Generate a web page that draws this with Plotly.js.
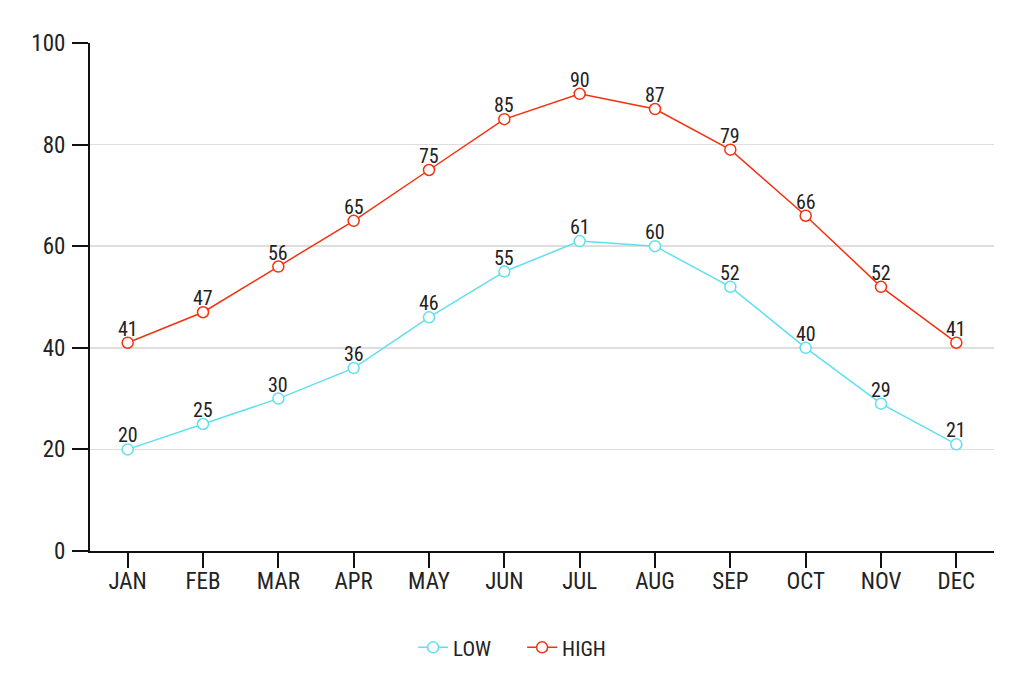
<!DOCTYPE html>
<html><head><meta charset="utf-8">
<script src="https://cdn.plot.ly/plotly-3.0.1.min.js"></script>
<style>body{margin:0;background:#fff}#c{width:1024px;height:684px}</style>
</head><body><div id="c"></div>
<script>
const months = ["JAN","FEB","MAR","APR","MAY","JUN","JUL","AUG","SEP","OCT","NOV","DEC"];
const low = [20,25,30,36,46,55,61,60,52,40,29,21];
const high = [41,47,56,65,75,85,90,87,79,66,52,41];
const FONT = "'Roboto Condensed', 'Liberation Sans Narrow', Roboto, sans-serif";
function tr(name, y, color){
  return {x: months, y: y, name: name, type:'scatter', mode:'lines+markers',
    line:{color:color, width:1.5},
    marker:{symbol:'circle', size:11, color:'#fff', line:{color:color, width:1.5}},
    cliponaxis:false};
}
const data = [tr('LOW', low, '#5ee0f0'), tr('HIGH', high, '#f5310f')];
const annotations = [];
[low, high].forEach(series => series.forEach((v, i) => annotations.push({
  x: months[i], y: v, xref:'x', yref:'y', text: String(v), showarrow:false,
  yanchor:'bottom', yshift:0, font:{size:20, color:'#222', family:FONT}
})));
const layout = {
  width:1024, height:684, paper_bgcolor:'#fff', plot_bgcolor:'#fff',
  margin:{l:90, r:30, t:43, b:133, autoexpand:false},
  font:{family:FONT, size:23, color:'#222'},
  showlegend:true, annotations: annotations,
  legend:{orientation:'h', x:0.478, xanchor:'center', y:-0.15, yanchor:'top', entrywidth:64,
    font:{size:21, family:FONT}},
  xaxis:{type:'category', showgrid:false, showline:true, linecolor:'#111', linewidth:2,
    ticks:'outside', ticklen:15, tickwidth:2, tickcolor:'#111', range:[-0.5,11.5],
    ticklabelstandoff:-7, fixedrange:true},
  yaxis:{range:[0,100], dtick:20, showgrid:true, gridcolor:'#dedede', gridwidth:1.5,
    showline:true, linecolor:'#111', linewidth:2, ticks:'outside', ticklen:16, tickwidth:2,
    tickcolor:'#111', zeroline:false, ticklabelstandoff:2, fixedrange:true}
};
Plotly.newPlot('c', data, layout, {displayModeBar:false, staticPlot:true});
</script></body></html>
